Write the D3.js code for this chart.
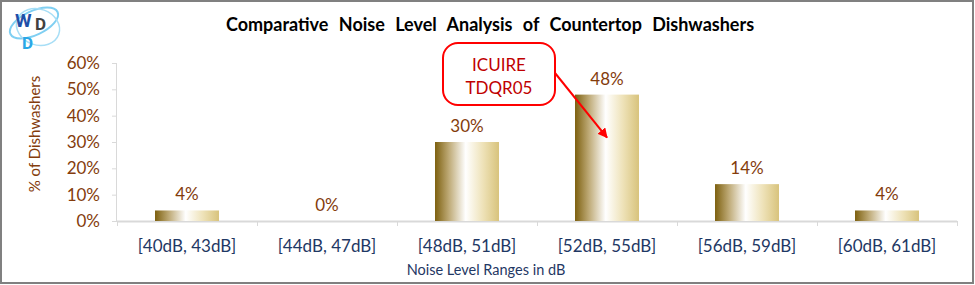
<!DOCTYPE html>
<html>
<head>
<meta charset="utf-8">
<script src="https://cdn.jsdelivr.net/npm/d3@7"></script>
<style>
  html, body { margin: 0; padding: 0; background: #fff; }
  svg { display: block; }
</style>
</head>
<body>
<svg id="chart" width="975" height="285"></svg>
<script>
// data
const categories = ['[40dB, 43dB]', '[44dB, 47dB]', '[48dB, 51dB]', '[52dB, 55dB]', '[56dB, 59dB]', '[60dB, 61dB]'];
const shares = [4, 0, 30, 48, 14, 4];
const yTicks = [0, 10, 20, 30, 40, 50, 60];
const calloutLines = ['ICUIRE', 'TDQR05'];
const calloutTarget = '[52dB, 55dB]';

const FONT = 'Lato, "Open Sans", sans-serif';
const W = 975, H = 285;
const margin = { top: 63, right: 18, bottom: 64, left: 117 };
const innerW = W - margin.left - margin.right;
const innerH = H - margin.top - margin.bottom;

const svg = d3.select('#chart');

// frame
svg.append('rect')
  .attr('x', 1).attr('y', 1).attr('width', W - 3).attr('height', H - 3)
  .attr('fill', '#fff').attr('stroke', '#808080').attr('stroke-width', 2);

// gold gradient for bars
const grad = svg.append('defs').append('linearGradient')
  .attr('id', 'gold').attr('x1', '0%').attr('x2', '100%').attr('y1', '0%').attr('y2', '0%');
grad.append('stop').attr('offset', '0%').attr('stop-color', '#7d600f');
grad.append('stop').attr('offset', '22%').attr('stop-color', '#bfab78');
grad.append('stop').attr('offset', '48%').attr('stop-color', '#ffffff');
grad.append('stop').attr('offset', '75%').attr('stop-color', '#eee2b8');
grad.append('stop').attr('offset', '100%').attr('stop-color', '#d8c37c');

const g = svg.append('g').attr('transform', `translate(${margin.left},${margin.top})`);

const x = d3.scaleBand().domain(categories).range([0, innerW]).paddingInner(0.543).paddingOuter(0.2715);
const xb = d3.scaleBand().domain(categories).range([0, innerW]);
const y = d3.scaleLinear().domain([0, 60]).range([innerH, 0]);

// y axis
const yAxis = g.append('g')
  .call(d3.axisLeft(y).tickValues(yTicks).tickSize(5).tickPadding(12).tickFormat(d => d + '%'));
yAxis.select('.domain').attr('stroke', '#d9d9d9').attr('d', `M-0.5,${innerH}V0`);
yAxis.selectAll('.tick line').attr('stroke', '#d9d9d9');
yAxis.selectAll('text').attr('fill', '#843c0c').style('font-family', FONT).style('font-size', '17px');

// x axis (ticks at category boundaries)
const xAxis = g.append('g').attr('transform', `translate(0,${innerH})`);
xAxis.append('line').attr('x1', 0).attr('x2', innerW).attr('y1', 0.5).attr('y2', 0.5)
  .attr('stroke', '#d9d9d9').attr('stroke-width', 2);
xAxis.selectAll('.bt')
  .data(categories.concat([null]))
  .join('line')
  .attr('x1', (d, i) => i * xb.step() + 0.5)
  .attr('x2', (d, i) => i * xb.step() + 0.5)
  .attr('y1', 0).attr('y2', 5)
  .attr('stroke', '#d9d9d9');
xAxis.selectAll('.lbl')
  .data(categories)
  .join('text')
  .attr('x', d => xb(d) + xb.bandwidth() / 2)
  .attr('y', 31)
  .attr('text-anchor', 'middle')
  .attr('fill', '#1f3864')
  .style('font-family', FONT).style('font-size', '17px')
  .text(d => d);

// bars
g.selectAll('.bar')
  .data(categories)
  .join('rect')
  .attr('x', d => x(d))
  .attr('width', x.bandwidth())
  .attr('y', (d, i) => y(shares[i]))
  .attr('height', (d, i) => innerH - y(shares[i]))
  .attr('fill', 'url(#gold)');

// data labels
g.selectAll('.val')
  .data(categories)
  .join('text')
  .attr('x', d => x(d) + x.bandwidth() / 2)
  .attr('y', (d, i) => y(shares[i]) - 10)
  .attr('text-anchor', 'middle')
  .attr('fill', '#843c0c')
  .style('font-family', FONT).style('font-size', '17px')
  .text((d, i) => shares[i] + '%');

// axis titles
svg.append('text')
  .attr('transform', `translate(40,${margin.top + innerH / 2 - 8}) rotate(-90)`)
  .attr('text-anchor', 'middle')
  .attr('fill', '#843c0c')
  .style('font-family', FONT).style('font-size', '15px')
  .text('% of Dishwashers');

svg.append('text')
  .attr('x', 486).attr('y', 275)
  .attr('text-anchor', 'middle')
  .attr('fill', '#1f3864')
  .style('font-family', FONT).style('font-size', '14.5px')
  .text('Noise Level Ranges in dB');

// title
svg.append('text')
  .attr('x', 490).attr('y', 31)
  .attr('text-anchor', 'middle')
  .attr('fill', '#000')
  .style('font-family', FONT).style('font-size', '18px').style('font-weight', 'bold')
  .style('word-spacing', '6px')
  .text('Comparative Noise Level Analysis of Countertop Dishwashers');

// callout
const boxX = 443, boxY = 43, boxW = 112, boxH = 62;
const tIdx = categories.indexOf(calloutTarget);
const tx = margin.left + x(calloutTarget) + x.bandwidth() / 2;
const ty = margin.top + y(shares[tIdx] * 0.66);

svg.append('defs').append('marker')
  .attr('id', 'arrow').attr('viewBox', '0 0 10 10').attr('refX', 9).attr('refY', 5)
  .attr('markerWidth', 5).attr('markerHeight', 5).attr('orient', 'auto')
  .append('path').attr('d', 'M0,0L10,5L0,10z').attr('fill', '#ff0000');

svg.append('line')
  .attr('x1', boxX + boxW).attr('y1', boxY + 30)
  .attr('x2', tx).attr('y2', ty)
  .attr('stroke', '#ff0000').attr('stroke-width', 2)
  .attr('marker-end', 'url(#arrow)');

svg.append('rect')
  .attr('x', boxX).attr('y', boxY).attr('width', boxW).attr('height', boxH)
  .attr('rx', 15).attr('ry', 15)
  .attr('fill', '#fff').attr('stroke', '#ff0000').attr('stroke-width', 2);

svg.selectAll('.cl')
  .data(calloutLines)
  .join('text')
  .attr('x', boxX + boxW / 2)
  .attr('y', (d, i) => boxY + 28 + i * 23)
  .attr('text-anchor', 'middle')
  .attr('fill', '#c00000')
  .style('font-family', FONT).style('font-size', '17px')
  .text(d => d);

// logo
const logo = svg.append('g').attr('transform', 'translate(4,3)');
logo.append('ellipse').attr('cx', 30).attr('cy', 20).attr('rx', 26).attr('ry', 12)
  .attr('transform', 'rotate(-25 30 20)')
  .attr('fill', 'none').attr('stroke', '#7fcff2').attr('stroke-width', 2);
logo.append('ellipse').attr('cx', 34).attr('cy', 24).attr('rx', 22).attr('ry', 18)
  .attr('transform', 'rotate(20 34 24)')
  .attr('fill', 'none').attr('stroke', '#a7def6').attr('stroke-width', 1.5);
logo.append('text').attr('x', 11).attr('y', 24)
  .attr('fill', '#1f4fa8').style('font-family', 'Roboto, sans-serif').style('font-weight', 'bold').style('font-size', '19px')
  .text('W');
logo.append('text').attr('x', 31).attr('y', 27)
  .attr('fill', '#404040').style('font-family', 'Roboto, sans-serif').style('font-weight', 'bold').style('font-size', '17px')
  .text('D');
logo.append('text').attr('x', 18).attr('y', 46)
  .attr('fill', '#2aa7e6').style('font-family', 'Roboto, sans-serif').style('font-weight', 'bold').style('font-size', '17px')
  .text('D');
</script>
</body>
</html>
